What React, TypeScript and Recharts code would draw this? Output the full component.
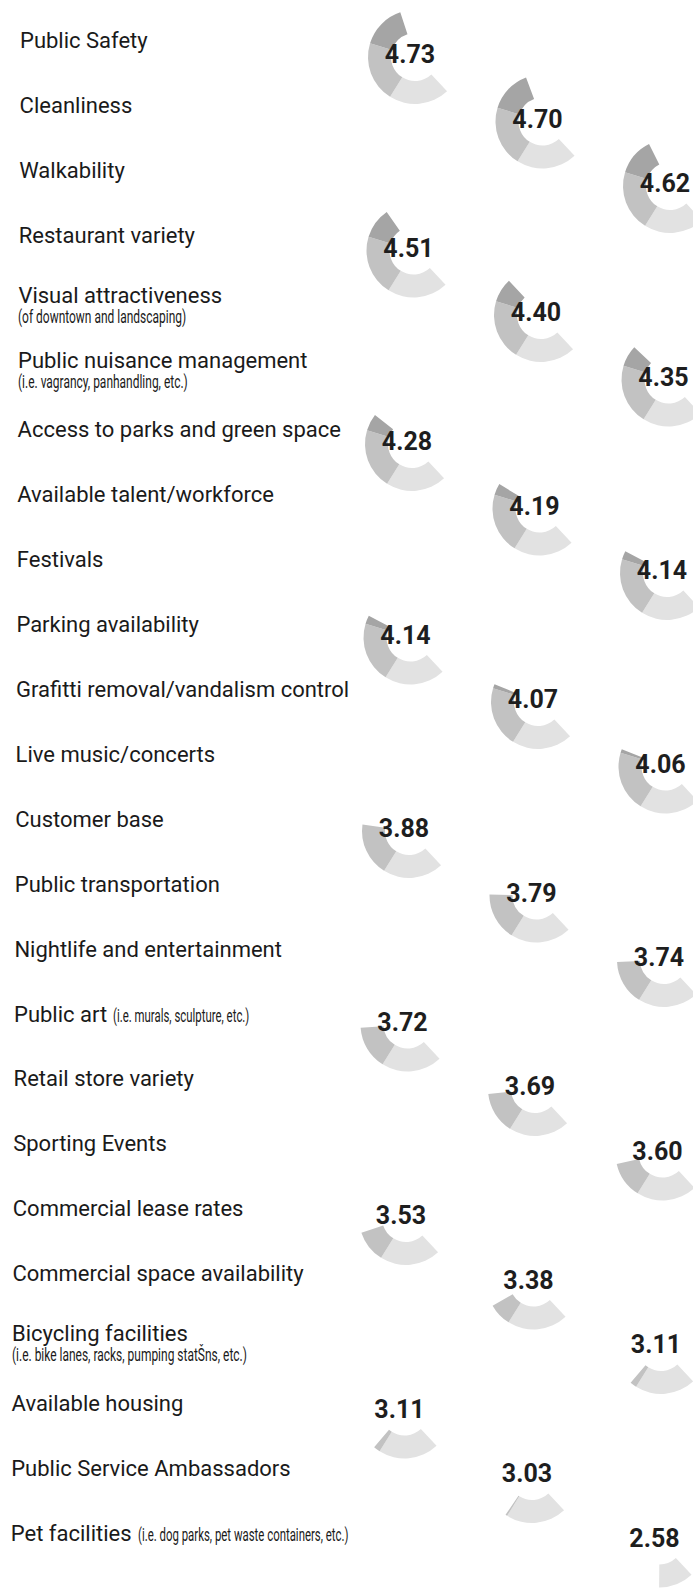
import React from "react";
import { Cell, Pie, PieChart } from "recharts";

// survey items, top to bottom
const labels = [
  "Public Safety",
  "Cleanliness",
  "Walkability",
  "Restaurant variety",
  "Visual attractiveness",
  "Public nuisance management",
  "Access to parks and green space",
  "Available talent/workforce",
  "Festivals",
  "Parking availability",
  "Grafitti removal/vandalism control",
  "Live music/concerts",
  "Customer base",
  "Public transportation",
  "Nightlife and entertainment",
  "Public art",
  "Retail store variety",
  "Sporting Events",
  "Commercial lease rates",
  "Commercial space availability",
  "Bicycling facilities",
  "Available housing",
  "Public Service Ambassadors",
  "Pet facilities",
];

// small condensed notes; inline ones sit after the label, others go on a second line
const notes = [
  "", "", "", "",
  "(of downtown and landscaping)",
  "(i.e. vagrancy, panhandling, etc.)",
  "", "", "", "", "", "", "", "", "",
  "(i.e. murals, sculpture, etc.)",
  "", "", "", "",
  "(i.e. bike lanes, racks, pumping statŠns, etc.)",
  "", "",
  "(i.e. dog parks, pet waste containers, etc.)",
];
const inlineNotes = [15, 23];

const scores = [
  4.73, 4.7, 4.62, 4.51, 4.4, 4.35, 4.28, 4.19, 4.14, 4.14, 4.07, 4.06,
  3.88, 3.79, 3.74, 3.72, 3.69, 3.6, 3.53, 3.38, 3.11, 3.11, 3.03, 2.58,
];

// gauge runs from 2 to 5, shaded in bands of one point
const bandEdges = [2, 3, 4, 5];
const bandColors = ["#e2e2e2", "#c2c2c2", "#a5a5a5"];

const W = 693;
const H = 1593;
const colX = [410, 538, 666];

function segments(v: number) {
  const rows = bandColors.map((fill, k) => ({
    name: `band${k}`,
    value: Math.max(0, Math.min(v, bandEdges[k + 1]) - bandEdges[k]),
    fill,
  }));
  rows.push({ name: "rest", value: bandEdges[3] - v, fill: "transparent" });
  return rows;
}

function ringPos(i: number) {
  const x = colX[i % 3] - 0.5 * i;
  const y = 55 + 64.5 * i;
  return { x, y };
}

const noteStyle: React.CSSProperties = {
  display: "inline-block",
  fontSize: 19,
  lineHeight: "18px",
  transformOrigin: "left center",
};

export default function App() {
  return (
    <div style={{ position: "relative", width: W, height: H, background: "#fff", overflow: "hidden" }}>
      <style>{`body{margin:0;}`}</style>
      <PieChart width={W} height={H} style={{ position: "absolute", left: 0, top: 0 }}>
        {scores.map((v, i) => {
          const p = ringPos(i);
          const rows = segments(v);
          return (
            <Pie
              key={i}
              data={rows}
              dataKey="value"
              nameKey="name"
              cx={p.x}
              cy={p.y - 3}
              innerRadius={24}
              outerRadius={47}
              startAngle={-47}
              endAngle={-272}
              stroke="none"
              isAnimationActive={false}
            >
              {rows.map((r, k) => (
                <Cell key={k} fill={r.fill} />
              ))}
            </Pie>
          );
        })}
      </PieChart>

      {scores.map((v, i) => {
        const p = ringPos(i);
        return (
          <div
            key={`s${i}`}
            style={{
              position: "absolute",
              left: p.x,
              top: p.y,
              transform: "translate(-50%, -50%)",
              fontFamily: "Roboto, sans-serif",
              fontWeight: 700,
              fontSize: 25,
              lineHeight: "30px",
              color: "#1e1e1e",
              whiteSpace: "nowrap",
            }}
          >
            {v.toFixed(2)}
          </div>
        );
      })}

      {labels.map((text, i) => {
        const x = 20 - 0.4 * i;
        const y = 41 + 64.9 * i;
        const note = notes[i];
        const inline = inlineNotes.includes(i);
        const twoLine = note !== "" && !inline;
        const mainY = twoLine ? y - 5 : y;
        return (
          <React.Fragment key={`l${i}`}>
            <div
              style={{
                position: "absolute",
                left: x,
                top: mainY - 11,
                fontFamily: "Roboto, sans-serif",
                fontSize: 22,
                lineHeight: "22px",
                color: "#1a1a1a",
                whiteSpace: "nowrap",
              }}
            >
              {text}
              {inline && (
                <span style={{ ...noteStyle, marginLeft: 6, transform: "scaleX(0.6)" }}>{note}</span>
              )}
            </div>
            {twoLine && (
              <div
                style={{
                  ...noteStyle,
                  position: "absolute",
                  left: x,
                  top: y + 7,
                  fontFamily: "Roboto, sans-serif",
                  color: "#1a1a1a",
                  whiteSpace: "nowrap",
                  transform: "scaleX(0.63)",
                }}
              >
                {note}
              </div>
            )}
          </React.Fragment>
        );
      })}
    </div>
  );
}
